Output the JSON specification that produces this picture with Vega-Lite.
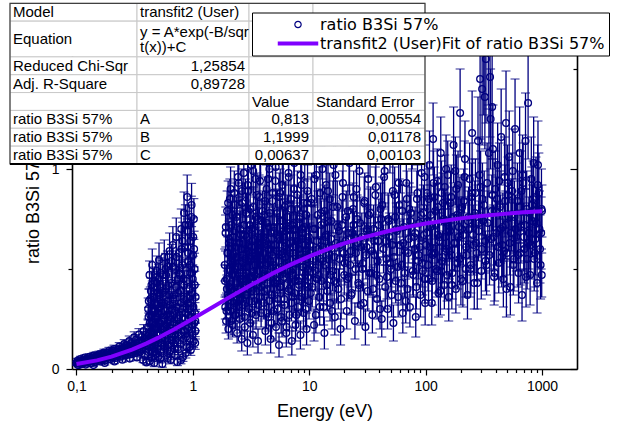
{
"$schema": "https://vega.github.io/schema/vega-lite/v6.json",
"width": 505,
"height": 330,
"autosize": "none",
"padding": {"left": 72, "top": 39, "right": 48, "bottom": 56},
"background": "white",
"config": {
  "font": "Liberation Sans",
  "view": {"stroke": null},
  "axis": {"labelFont": "Liberation Sans", "titleFont": "Liberation Sans", "labelColor": "#000", "titleColor": "#000", "tickColor": "#000", "domainColor": "#000", "grid": false, "titleFontWeight": "normal", "zindex": 0}
},
"datasets": {
"pts": [
{"x":0.100,"y":0.028,"e":0.010},{"x":0.102,"y":0.041,"e":0.012},{"x":0.104,"y":0.019,"e":0.009},{"x":0.106,"y":0.035,"e":0.011},{"x":0.108,"y":0.050,"e":0.013},{"x":0.110,"y":0.024,"e":0.010},{"x":0.113,"y":0.044,"e":0.012},{"x":0.115,"y":0.031,"e":0.011},{"x":0.118,"y":0.057,"e":0.014},{"x":0.120,"y":0.022,"e":0.010},{"x":0.123,"y":0.048,"e":0.013},{"x":0.126,"y":0.036,"e":0.011},{"x":0.129,"y":0.061,"e":0.015},{"x":0.132,"y":0.029,"e":0.011},{"x":0.135,"y":0.053,"e":0.014},{"x":0.138,"y":0.040,"e":0.012},{"x":0.141,"y":0.068,"e":0.015},{"x":0.145,"y":0.034,"e":0.012},{"x":0.148,"y":0.058,"e":0.014},{"x":0.152,"y":0.045,"e":0.013},{"x":0.156,"y":0.073,"e":0.016},{"x":0.160,"y":0.038,"e":0.012},{"x":0.164,"y":0.064,"e":0.015},{"x":0.168,"y":0.051,"e":0.014},{"x":0.172,"y":0.082,"e":0.017},{"x":0.176,"y":0.043,"e":0.013},{"x":0.180,"y":0.070,"e":0.016},{"x":0.185,"y":0.057,"e":0.014},{"x":0.190,"y":0.090,"e":0.018},{"x":0.195,"y":0.049,"e":0.014},{"x":0.200,"y":0.078,"e":0.016},{"x":0.205,"y":0.063,"e":0.015},{"x":0.210,"y":0.100,"e":0.019},{"x":0.215,"y":0.055,"e":0.015},{"x":0.221,"y":0.086,"e":0.017},{"x":0.227,"y":0.071,"e":0.016},{"x":0.233,"y":0.112,"e":0.020},{"x":0.239,"y":0.061,"e":0.015},{"x":0.245,"y":0.095,"e":0.018},{"x":0.251,"y":0.078,"e":0.017},{"x":0.257,"y":0.125,"e":0.022},{"x":0.263,"y":0.068,"e":0.016},{"x":0.270,"y":0.104,"e":0.019},{"x":0.277,"y":0.087,"e":0.018},{"x":0.284,"y":0.140,"e":0.025},{"x":0.291,"y":0.074,"e":0.017},{"x":0.298,"y":0.115,"e":0.020},{"x":0.305,"y":0.094,"e":0.019},{"x":0.313,"y":0.158,"e":0.028},{"x":0.320,"y":0.080,"e":0.018},{"x":0.328,"y":0.126,"e":0.022},{"x":0.336,"y":0.101,"e":0.020},{"x":0.344,"y":0.172,"e":0.030},{"x":0.352,"y":0.085,"e":0.019},{"x":0.360,"y":0.137,"e":0.024},{"x":0.369,"y":0.108,"e":0.021},{"x":0.378,"y":0.190,"e":0.032},{"x":0.386,"y":0.070,"e":0.018},{"x":0.395,"y":0.150,"e":0.026},{"x":0.404,"y":0.118,"e":0.022},
{"x":0.140,"y":0.020,"e":0.008},{"x":0.175,"y":0.030,"e":0.010},{"x":0.212,"y":0.038,"e":0.011},{"x":0.248,"y":0.046,"e":0.012},{"x":0.287,"y":0.052,"e":0.013},{"x":0.331,"y":0.058,"e":0.014},{"x":0.373,"y":0.045,"e":0.013},{"x":0.399,"y":0.033,"e":0.012},
{"x":0.101,"y":0.033,"e":0.010},{"x":0.105,"y":0.026,"e":0.010},{"x":0.109,"y":0.039,"e":0.011},{"x":0.112,"y":0.030,"e":0.010},{"x":0.117,"y":0.046,"e":0.012},{"x":0.121,"y":0.034,"e":0.011},{"x":0.125,"y":0.052,"e":0.013},{"x":0.130,"y":0.040,"e":0.012},{"x":0.134,"y":0.047,"e":0.012},{"x":0.139,"y":0.058,"e":0.014},{"x":0.143,"y":0.042,"e":0.012},{"x":0.150,"y":0.065,"e":0.015},{"x":0.154,"y":0.050,"e":0.013},{"x":0.158,"y":0.059,"e":0.014},{"x":0.162,"y":0.047,"e":0.013},{"x":0.166,"y":0.075,"e":0.016},{"x":0.170,"y":0.062,"e":0.015},{"x":0.178,"y":0.056,"e":0.014},{"x":0.183,"y":0.081,"e":0.017},{"x":0.188,"y":0.067,"e":0.015},{"x":0.193,"y":0.074,"e":0.016},{"x":0.198,"y":0.060,"e":0.015},{"x":0.203,"y":0.092,"e":0.018},{"x":0.208,"y":0.070,"e":0.016},{"x":0.218,"y":0.083,"e":0.017},{"x":0.224,"y":0.066,"e":0.016},{"x":0.230,"y":0.098,"e":0.019},{"x":0.236,"y":0.080,"e":0.017},{"x":0.242,"y":0.089,"e":0.018},{"x":0.254,"y":0.107,"e":0.020},{"x":0.260,"y":0.085,"e":0.018},{"x":0.267,"y":0.118,"e":0.021},{"x":0.274,"y":0.095,"e":0.019},{"x":0.281,"y":0.109,"e":0.020},{"x":0.295,"y":0.130,"e":0.023},{"x":0.302,"y":0.103,"e":0.020},{"x":0.309,"y":0.121,"e":0.022},{"x":0.316,"y":0.090,"e":0.019},{"x":0.324,"y":0.146,"e":0.026},{"x":0.340,"y":0.115,"e":0.022},{"x":0.348,"y":0.132,"e":0.024},{"x":0.356,"y":0.098,"e":0.020},{"x":0.364,"y":0.160,"e":0.028},{"x":0.382,"y":0.125,"e":0.023},{"x":0.391,"y":0.170,"e":0.030},{"x":0.408,"y":0.140,"e":0.026},
{"x":0.412,"y":0.210,"e":0.040},{"x":0.415,"y":0.085,"e":0.025},{"x":0.418,"y":0.340,"e":0.060},{"x":0.421,"y":0.150,"e":0.035},{"x":0.424,"y":0.470,"e":0.070},{"x":0.427,"y":0.040,"e":0.020},{"x":0.430,"y":0.270,"e":0.050},{"x":0.433,"y":0.120,"e":0.030},{"x":0.436,"y":0.390,"e":0.065},{"x":0.439,"y":0.190,"e":0.040},{"x":0.442,"y":0.060,"e":0.022},{"x":0.445,"y":0.300,"e":0.055},{"x":0.448,"y":0.520,"e":0.080},{"x":0.451,"y":0.230,"e":0.045},{"x":0.455,"y":0.105,"e":0.030},{"x":0.458,"y":0.360,"e":0.060},{"x":0.462,"y":0.160,"e":0.035},{"x":0.466,"y":0.030,"e":0.018},{"x":0.470,"y":0.440,"e":0.070},{"x":0.474,"y":0.250,"e":0.050},{"x":0.478,"y":0.135,"e":0.032},{"x":0.482,"y":0.320,"e":0.058},{"x":0.486,"y":0.075,"e":0.024},{"x":0.490,"y":0.490,"e":0.075},{"x":0.494,"y":0.205,"e":0.042},{"x":0.498,"y":0.380,"e":0.062},{"x":0.502,"y":0.110,"e":0.030},{"x":0.507,"y":0.280,"e":0.052},{"x":0.512,"y":0.545,"e":0.085},{"x":0.517,"y":0.175,"e":0.038},{"x":0.522,"y":0.050,"e":0.020},{"x":0.527,"y":0.410,"e":0.068},{"x":0.532,"y":0.240,"e":0.048},{"x":0.537,"y":0.130,"e":0.032},{"x":0.542,"y":0.330,"e":0.058},{"x":0.547,"y":0.025,"e":0.016},{"x":0.552,"y":0.470,"e":0.072},{"x":0.557,"y":0.195,"e":0.042},{"x":0.562,"y":0.090,"e":0.026},{"x":0.568,"y":0.560,"e":0.085},{"x":0.574,"y":0.290,"e":0.055},{"x":0.580,"y":0.150,"e":0.035},{"x":0.586,"y":0.400,"e":0.066},{"x":0.592,"y":0.215,"e":0.044},{"x":0.598,"y":0.070,"e":0.022},{"x":0.604,"y":0.510,"e":0.080},{"x":0.610,"y":0.340,"e":0.060},{"x":0.617,"y":0.120,"e":0.030},{"x":0.624,"y":0.260,"e":0.050},{"x":0.631,"y":0.590,"e":0.090},{"x":0.638,"y":0.180,"e":0.040},{"x":0.645,"y":0.045,"e":0.019},{"x":0.652,"y":0.430,"e":0.070},{"x":0.659,"y":0.300,"e":0.056},{"x":0.666,"y":0.145,"e":0.034},{"x":0.673,"y":0.620,"e":0.092},{"x":0.680,"y":0.235,"e":0.047},{"x":0.688,"y":0.370,"e":0.062},{"x":0.696,"y":0.100,"e":0.028},{"x":0.704,"y":0.500,"e":0.078},{"x":0.712,"y":0.200,"e":0.042},{"x":0.720,"y":0.660,"e":0.095},{"x":0.728,"y":0.310,"e":0.058},{"x":0.736,"y":0.035,"e":0.018},{"x":0.744,"y":0.450,"e":0.072},{"x":0.752,"y":0.165,"e":0.036},{"x":0.760,"y":0.580,"e":0.088},{"x":0.768,"y":0.270,"e":0.052},{"x":0.777,"y":0.390,"e":0.065},{"x":0.786,"y":0.125,"e":0.031},{"x":0.795,"y":0.700,"e":0.100},{"x":0.804,"y":0.225,"e":0.046},{"x":0.813,"y":0.520,"e":0.082},{"x":0.822,"y":0.060,"e":0.022},{"x":0.831,"y":0.350,"e":0.061},{"x":0.840,"y":0.780,"e":0.105},{"x":0.849,"y":0.190,"e":0.041},{"x":0.858,"y":0.610,"e":0.090},{"x":0.867,"y":0.280,"e":0.054},{"x":0.876,"y":0.440,"e":0.071},{"x":0.885,"y":0.110,"e":0.029},{"x":0.894,"y":0.860,"e":0.110},{"x":0.903,"y":0.330,"e":0.060},{"x":0.912,"y":0.540,"e":0.083},{"x":0.921,"y":0.210,"e":0.044},{"x":0.930,"y":0.720,"e":0.100},{"x":0.939,"y":0.400,"e":0.067},{"x":0.948,"y":0.150,"e":0.034},{"x":0.957,"y":0.640,"e":0.092},{"x":0.966,"y":0.260,"e":0.051},{"x":0.975,"y":0.820,"e":0.108},{"x":0.984,"y":0.480,"e":0.076},{"x":0.993,"y":0.170,"e":0.038},{"x":1.002,"y":0.570,"e":0.086},{"x":1.011,"y":0.310,"e":0.058},{"x":1.020,"y":0.750,"e":0.102},{"x":1.029,"y":0.230,"e":0.047},{"x":1.038,"y":0.420,"e":0.069},{"x":1.047,"y":0.130,"e":0.032},{"x":1.056,"y":0.360,"e":0.062},
{"x":0.416,"y":0.260,"e":0.048},{"x":0.429,"y":0.180,"e":0.038},{"x":0.441,"y":0.420,"e":0.066},{"x":0.453,"y":0.140,"e":0.032},{"x":0.468,"y":0.290,"e":0.054},{"x":0.480,"y":0.210,"e":0.043},{"x":0.496,"y":0.100,"e":0.028},{"x":0.509,"y":0.450,"e":0.072},{"x":0.524,"y":0.310,"e":0.057},{"x":0.539,"y":0.200,"e":0.042},{"x":0.555,"y":0.380,"e":0.063},{"x":0.571,"y":0.115,"e":0.030},{"x":0.589,"y":0.470,"e":0.074},{"x":0.607,"y":0.230,"e":0.046},{"x":0.627,"y":0.370,"e":0.062},{"x":0.648,"y":0.270,"e":0.051},{"x":0.670,"y":0.510,"e":0.080},{"x":0.692,"y":0.170,"e":0.037},{"x":0.716,"y":0.410,"e":0.068},{"x":0.740,"y":0.250,"e":0.049},{"x":0.764,"y":0.480,"e":0.076},{"x":0.790,"y":0.330,"e":0.059},{"x":0.817,"y":0.640,"e":0.094},{"x":0.845,"y":0.420,"e":0.069},{"x":0.872,"y":0.160,"e":0.036},{"x":0.899,"y":0.690,"e":0.099},{"x":0.926,"y":0.300,"e":0.056},{"x":0.953,"y":0.480,"e":0.075},{"x":0.980,"y":0.380,"e":0.064},{"x":1.007,"y":0.660,"e":0.096},{"x":1.034,"y":0.500,"e":0.079},{"x":0.610,"y":0.055,"e":0.020},{"x":0.700,"y":0.070,"e":0.023},{"x":0.790,"y":0.045,"e":0.019},{"x":0.870,"y":0.080,"e":0.025},{"x":0.960,"y":0.095,"e":0.027},{"x":1.050,"y":0.240,"e":0.048},
{"x":0.413,"y":0.300,"e":0.055},{"x":0.419,"y":0.110,"e":0.030},{"x":0.426,"y":0.230,"e":0.046},{"x":0.431,"y":0.350,"e":0.060},{"x":0.437,"y":0.160,"e":0.036},{"x":0.444,"y":0.270,"e":0.050},{"x":0.450,"y":0.080,"e":0.025},{"x":0.457,"y":0.410,"e":0.066},{"x":0.464,"y":0.200,"e":0.041},{"x":0.472,"y":0.330,"e":0.058},{"x":0.476,"y":0.120,"e":0.031},{"x":0.484,"y":0.260,"e":0.049},{"x":0.488,"y":0.430,"e":0.069},{"x":0.492,"y":0.170,"e":0.037},{"x":0.500,"y":0.300,"e":0.055},{"x":0.505,"y":0.060,"e":0.022},{"x":0.514,"y":0.370,"e":0.062},{"x":0.519,"y":0.230,"e":0.046},{"x":0.529,"y":0.480,"e":0.075},{"x":0.534,"y":0.150,"e":0.034},{"x":0.544,"y":0.280,"e":0.052},{"x":0.549,"y":0.390,"e":0.064},{"x":0.559,"y":0.110,"e":0.029},{"x":0.565,"y":0.330,"e":0.058},{"x":0.577,"y":0.210,"e":0.043},{"x":0.583,"y":0.500,"e":0.078},{"x":0.595,"y":0.270,"e":0.051},{"x":0.601,"y":0.140,"e":0.033},{"x":0.614,"y":0.420,"e":0.068},{"x":0.620,"y":0.190,"e":0.040},{"x":0.634,"y":0.320,"e":0.057},{"x":0.641,"y":0.090,"e":0.026},{"x":0.655,"y":0.540,"e":0.083},{"x":0.662,"y":0.220,"e":0.045},{"x":0.677,"y":0.350,"e":0.060},{"x":0.684,"y":0.130,"e":0.032},{"x":0.708,"y":0.290,"e":0.054},{"x":0.724,"y":0.560,"e":0.085},{"x":0.732,"y":0.180,"e":0.039},{"x":0.748,"y":0.380,"e":0.063},{"x":0.756,"y":0.100,"e":0.028},{"x":0.772,"y":0.470,"e":0.074},{"x":0.781,"y":0.230,"e":0.046},{"x":0.799,"y":0.600,"e":0.089},{"x":0.808,"y":0.300,"e":0.055},{"x":0.826,"y":0.150,"e":0.034},{"x":0.835,"y":0.450,"e":0.071},{"x":0.853,"y":0.250,"e":0.049},{"x":0.862,"y":0.720,"e":0.101},{"x":0.881,"y":0.360,"e":0.061},{"x":0.890,"y":0.200,"e":0.041},{"x":0.908,"y":0.580,"e":0.087},{"x":0.917,"y":0.270,"e":0.051},{"x":0.935,"y":0.110,"e":0.029},{"x":0.944,"y":0.520,"e":0.081},{"x":0.962,"y":0.330,"e":0.058},{"x":0.971,"y":0.760,"e":0.104},{"x":0.989,"y":0.220,"e":0.045},{"x":0.998,"y":0.450,"e":0.071},{"x":1.016,"y":0.140,"e":0.033},{"x":1.025,"y":0.600,"e":0.089},{"x":1.043,"y":0.280,"e":0.052},{"x":1.052,"y":0.190,"e":0.040},
{"x":1.88,"y":0.52,"e":0.08},{"x":1.90,"y":0.31,"e":0.06},{"x":1.91,"y":0.68,"e":0.09},{"x":1.93,"y":0.24,"e":0.06},{"x":1.95,"y":0.45,"e":0.07},{"x":1.97,"y":0.79,"e":0.10},{"x":1.99,"y":0.37,"e":0.07},{"x":2.00,"y":0.58,"e":0.08},{"x":2.02,"y":0.20,"e":0.05},{"x":2.04,"y":0.63,"e":0.09},{"x":2.06,"y":0.41,"e":0.07},{"x":2.08,"y":0.85,"e":0.10},{"x":2.10,"y":0.29,"e":0.06},{"x":2.12,"y":0.54,"e":0.08},{"x":2.14,"y":0.72,"e":0.09},{"x":2.16,"y":0.34,"e":0.07},{"x":2.18,"y":0.47,"e":0.07},{"x":2.20,"y":0.22,"e":0.06},{"x":2.22,"y":0.66,"e":0.09},{"x":2.24,"y":0.39,"e":0.07},{"x":2.27,"y":0.88,"e":0.11},{"x":2.29,"y":0.50,"e":0.08},{"x":2.31,"y":0.27,"e":0.06},{"x":2.33,"y":0.61,"e":0.09},{"x":2.36,"y":0.43,"e":0.07},{"x":2.38,"y":0.76,"e":0.10},{"x":2.40,"y":0.18,"e":0.05},{"x":2.43,"y":0.56,"e":0.08},{"x":2.45,"y":0.35,"e":0.07},{"x":2.48,"y":0.93,"e":0.11},{"x":2.50,"y":0.48,"e":0.08},{"x":2.53,"y":0.25,"e":0.07},{"x":2.55,"y":0.70,"e":0.09},{"x":2.58,"y":0.40,"e":0.08},{"x":2.60,"y":0.60,"e":0.09},{"x":2.63,"y":0.15,"e":0.06},{"x":2.66,"y":0.83,"e":0.10},{"x":2.68,"y":0.32,"e":0.07},{"x":2.71,"y":0.53,"e":0.08},{"x":2.74,"y":0.98,"e":0.12},{"x":2.76,"y":0.44,"e":0.08},{"x":2.79,"y":0.21,"e":0.06},{"x":2.82,"y":0.67,"e":0.09},{"x":2.85,"y":0.37,"e":0.07},{"x":2.88,"y":0.78,"e":0.10},{"x":2.91,"y":0.51,"e":0.08},{"x":2.94,"y":0.13,"e":0.06},{"x":2.97,"y":0.59,"e":0.09},{"x":3.00,"y":0.89,"e":0.11},{"x":3.03,"y":0.30,"e":0.07},{"x":3.06,"y":0.46,"e":0.08},{"x":3.09,"y":0.72,"e":0.10},{"x":3.12,"y":0.23,"e":0.07},{"x":3.15,"y":0.55,"e":0.08},{"x":3.18,"y":1.02,"e":0.12},{"x":3.22,"y":0.39,"e":0.08},{"x":3.25,"y":0.64,"e":0.09},{"x":3.28,"y":0.17,"e":0.06},{"x":3.32,"y":0.81,"e":0.10},{"x":3.35,"y":0.49,"e":0.08},{"x":3.38,"y":0.34,"e":0.07},{"x":3.42,"y":0.69,"e":0.09},{"x":3.45,"y":0.95,"e":0.12},{"x":3.49,"y":0.27,"e":0.07},{"x":3.52,"y":0.57,"e":0.09},{"x":3.56,"y":0.42,"e":0.08},{"x":3.60,"y":0.75,"e":0.10},{"x":3.63,"y":0.14,"e":0.06},{"x":3.67,"y":0.62,"e":0.09},{"x":3.71,"y":0.86,"e":0.11},{"x":3.75,"y":0.36,"e":0.08},{"x":3.78,"y":0.52,"e":0.09},{"x":3.82,"y":1.05,"e":0.13},{"x":3.86,"y":0.28,"e":0.07},{"x":3.90,"y":0.66,"e":0.09},{"x":3.94,"y":0.45,"e":0.08},{"x":3.98,"y":0.79,"e":0.10},
{"x":1.89,"y":0.44,"e":0.08},{"x":1.92,"y":0.71,"e":0.10},{"x":1.945,"y":0.29,"e":0.07},{"x":1.98,"y":0.58,"e":0.09},{"x":2.01,"y":0.83,"e":0.11},{"x":2.03,"y":0.36,"e":0.07},{"x":2.05,"y":0.65,"e":0.09},{"x":2.07,"y":0.50,"e":0.08},{"x":2.11,"y":0.90,"e":0.11},{"x":2.13,"y":0.24,"e":0.07},{"x":2.15,"y":0.61,"e":0.09},{"x":2.17,"y":0.40,"e":0.08},{"x":2.19,"y":0.77,"e":0.10},{"x":2.21,"y":0.53,"e":0.09},{"x":2.25,"y":0.33,"e":0.07},{"x":2.26,"y":0.69,"e":0.10},{"x":2.28,"y":0.47,"e":0.08},{"x":2.30,"y":0.82,"e":0.11},{"x":2.32,"y":0.27,"e":0.07},{"x":2.35,"y":0.56,"e":0.09},{"x":2.39,"y":0.74,"e":0.10},{"x":2.41,"y":0.38,"e":0.08},{"x":2.44,"y":0.96,"e":0.12},{"x":2.47,"y":0.51,"e":0.09},{"x":2.49,"y":0.63,"e":0.09},{"x":2.51,"y":0.31,"e":0.07},{"x":2.54,"y":0.79,"e":0.10},{"x":2.57,"y":0.45,"e":0.08},{"x":2.59,"y":0.67,"e":0.10},{"x":2.62,"y":0.35,"e":0.08},{"x":2.64,"y":0.89,"e":0.11},{"x":2.69,"y":0.57,"e":0.09},{"x":2.72,"y":0.42,"e":0.08},{"x":2.75,"y":0.72,"e":0.10},{"x":2.78,"y":0.26,"e":0.07},{"x":2.80,"y":0.60,"e":0.09},{"x":2.84,"y":0.84,"e":0.11},{"x":2.87,"y":0.48,"e":0.09},{"x":2.90,"y":0.66,"e":0.10},{"x":2.93,"y":0.37,"e":0.08},{"x":2.96,"y":0.92,"e":0.12},{"x":2.99,"y":0.54,"e":0.09},{"x":3.05,"y":0.62,"e":0.09},{"x":3.08,"y":0.34,"e":0.08},{"x":3.11,"y":0.80,"e":0.11},{"x":3.14,"y":0.46,"e":0.09},{"x":3.17,"y":0.70,"e":0.10},{"x":3.24,"y":0.28,"e":0.07},{"x":3.27,"y":0.58,"e":0.09},{"x":3.30,"y":0.99,"e":0.12},{"x":3.34,"y":0.43,"e":0.08},{"x":3.37,"y":0.65,"e":0.10},{"x":3.44,"y":0.52,"e":0.09},{"x":3.47,"y":0.76,"e":0.10},{"x":3.51,"y":0.39,"e":0.08},{"x":3.55,"y":0.87,"e":0.11},{"x":3.58,"y":0.59,"e":0.09},{"x":3.65,"y":0.32,"e":0.08},{"x":3.69,"y":0.71,"e":0.10},{"x":3.73,"y":0.49,"e":0.09},{"x":3.77,"y":0.94,"e":0.12},{"x":3.80,"y":0.55,"e":0.09},{"x":3.88,"y":0.41,"e":0.08},{"x":3.92,"y":0.74,"e":0.10},{"x":3.96,"y":0.63,"e":0.10},
{"x":4.02,"y":0.58,"e":0.09},{"x":4.07,"y":0.33,"e":0.08},{"x":4.11,"y":0.77,"e":0.11},{"x":4.16,"y":0.46,"e":0.09},{"x":4.20,"y":0.19,"e":0.07},{"x":4.25,"y":0.64,"e":0.10},{"x":4.30,"y":0.90,"e":0.12},{"x":4.35,"y":0.40,"e":0.08},{"x":4.40,"y":0.55,"e":0.09},{"x":4.45,"y":0.26,"e":0.07},{"x":4.50,"y":0.71,"e":0.10},{"x":4.55,"y":1.00,"e":0.13},{"x":4.60,"y":0.48,"e":0.09},{"x":4.66,"y":0.15,"e":0.07},{"x":4.71,"y":0.62,"e":0.10},{"x":4.77,"y":0.37,"e":0.08},{"x":4.82,"y":0.84,"e":0.12},{"x":4.88,"y":0.52,"e":0.09},{"x":4.94,"y":0.29,"e":0.08},{"x":5.00,"y":0.69,"e":0.10},{"x":5.06,"y":0.43,"e":0.09},{"x":5.12,"y":0.94,"e":0.13},{"x":5.18,"y":0.21,"e":0.07},{"x":5.24,"y":0.59,"e":0.10},{"x":5.30,"y":0.78,"e":0.11},{"x":5.37,"y":0.35,"e":0.08},{"x":5.43,"y":0.50,"e":0.09},{"x":5.50,"y":0.12,"e":0.06},{"x":5.56,"y":0.66,"e":0.10},{"x":5.63,"y":0.88,"e":0.12},{"x":5.70,"y":0.41,"e":0.09},{"x":5.77,"y":0.57,"e":0.10},{"x":5.84,"y":0.24,"e":0.08},{"x":5.91,"y":0.74,"e":0.11},{"x":5.98,"y":1.06,"e":0.14},{"x":6.05,"y":0.46,"e":0.09},{"x":6.13,"y":0.32,"e":0.08},{"x":6.20,"y":0.61,"e":0.10},{"x":6.28,"y":0.82,"e":0.12},{"x":6.35,"y":0.18,"e":0.07},{"x":6.43,"y":0.53,"e":0.10},{"x":6.51,"y":0.70,"e":0.11},{"x":6.59,"y":0.39,"e":0.09},{"x":6.67,"y":0.96,"e":0.13},{"x":6.75,"y":0.27,"e":0.08},{"x":6.83,"y":0.63,"e":0.10},{"x":6.92,"y":0.49,"e":0.09},{"x":7.00,"y":0.80,"e":0.12},{"x":7.09,"y":0.14,"e":0.07},{"x":7.17,"y":0.58,"e":0.10},{"x":7.26,"y":0.36,"e":0.09},{"x":7.35,"y":0.73,"e":0.11},{"x":7.44,"y":1.03,"e":0.14},{"x":7.53,"y":0.44,"e":0.09},{"x":7.62,"y":0.22,"e":0.08},{"x":7.72,"y":0.67,"e":0.11},{"x":7.81,"y":0.54,"e":0.10},{"x":7.91,"y":0.87,"e":0.12},{"x":8.00,"y":0.31,"e":0.08},{"x":8.10,"y":0.60,"e":0.10},{"x":8.20,"y":0.42,"e":0.09},{"x":8.30,"y":0.76,"e":0.11},{"x":8.40,"y":0.17,"e":0.07},{"x":8.51,"y":0.65,"e":0.10},{"x":8.61,"y":0.92,"e":0.13},{"x":8.72,"y":0.38,"e":0.09},{"x":8.82,"y":0.51,"e":0.10},{"x":8.93,"y":0.28,"e":0.08},{"x":9.04,"y":0.71,"e":0.11},{"x":9.15,"y":1.08,"e":0.14},{"x":9.26,"y":0.47,"e":0.10},{"x":9.38,"y":0.59,"e":0.10},{"x":9.49,"y":0.20,"e":0.08},{"x":9.61,"y":0.83,"e":0.12},{"x":9.72,"y":0.41,"e":0.09},{"x":9.84,"y":0.64,"e":0.11},{"x":9.96,"y":0.34,"e":0.09},
{"x":1.96,"y":0.40,"e":0.07},{"x":2.09,"y":0.49,"e":0.08},{"x":2.23,"y":0.57,"e":0.08},{"x":2.37,"y":0.31,"e":0.07},{"x":2.52,"y":0.63,"e":0.09},{"x":2.67,"y":0.45,"e":0.08},{"x":2.83,"y":0.55,"e":0.09},{"x":3.01,"y":0.40,"e":0.08},{"x":3.20,"y":0.61,"e":0.09},{"x":3.40,"y":0.47,"e":0.08},{"x":3.61,"y":0.55,"e":0.09},{"x":3.84,"y":0.60,"e":0.09},{"x":4.09,"y":0.50,"e":0.09},{"x":4.35,"y":0.62,"e":0.10},{"x":4.63,"y":0.54,"e":0.10},{"x":4.93,"y":0.44,"e":0.09},{"x":5.25,"y":0.67,"e":0.10},{"x":5.59,"y":0.47,"e":0.09},{"x":5.95,"y":0.58,"e":0.10},{"x":6.33,"y":0.69,"e":0.11},{"x":6.74,"y":0.52,"e":0.10},{"x":7.18,"y":0.48,"e":0.10},{"x":7.65,"y":0.61,"e":0.10},{"x":8.15,"y":0.55,"e":0.10},{"x":8.68,"y":0.70,"e":0.11},{"x":9.24,"y":0.57,"e":0.10},{"x":9.80,"y":0.50,"e":0.10},
{"x":4.05,"y":0.66,"e":0.10},{"x":4.13,"y":0.39,"e":0.09},{"x":4.18,"y":0.84,"e":0.12},{"x":4.23,"y":0.52,"e":0.09},{"x":4.28,"y":0.28,"e":0.08},{"x":4.33,"y":0.73,"e":0.11},{"x":4.38,"y":0.46,"e":0.09},{"x":4.43,"y":0.95,"e":0.13},{"x":4.48,"y":0.60,"e":0.10},{"x":4.53,"y":0.34,"e":0.08},{"x":4.58,"y":0.78,"e":0.11},{"x":4.64,"y":0.50,"e":0.09},{"x":4.69,"y":0.68,"e":0.10},{"x":4.74,"y":0.23,"e":0.08},{"x":4.80,"y":0.57,"e":0.10},{"x":4.85,"y":0.88,"e":0.12},{"x":4.91,"y":0.43,"e":0.09},{"x":4.97,"y":0.71,"e":0.11},{"x":5.03,"y":0.37,"e":0.09},{"x":5.09,"y":0.62,"e":0.10},{"x":5.15,"y":1.01,"e":0.14},{"x":5.21,"y":0.48,"e":0.09},{"x":5.27,"y":0.79,"e":0.11},{"x":5.34,"y":0.30,"e":0.08},{"x":5.40,"y":0.65,"e":0.10},{"x":5.46,"y":0.54,"e":0.10},{"x":5.53,"y":0.86,"e":0.12},{"x":5.60,"y":0.41,"e":0.09},{"x":5.66,"y":0.74,"e":0.11},{"x":5.73,"y":0.26,"e":0.08},{"x":5.80,"y":0.59,"e":0.10},{"x":5.87,"y":0.92,"e":0.13},{"x":5.94,"y":0.45,"e":0.09},{"x":6.01,"y":0.69,"e":0.11},{"x":6.09,"y":0.35,"e":0.09},{"x":6.16,"y":0.81,"e":0.12},{"x":6.24,"y":0.56,"e":0.10},{"x":6.31,"y":0.63,"e":0.10},{"x":6.39,"y":0.21,"e":0.08},{"x":6.47,"y":0.76,"e":0.11},{"x":6.55,"y":0.49,"e":0.10},{"x":6.63,"y":0.98,"e":0.14},{"x":6.71,"y":0.40,"e":0.09},{"x":6.79,"y":0.67,"e":0.11},{"x":6.87,"y":0.58,"e":0.10},{"x":6.96,"y":0.85,"e":0.12},{"x":7.04,"y":0.33,"e":0.09},{"x":7.13,"y":0.72,"e":0.11},{"x":7.22,"y":0.47,"e":0.10},{"x":7.30,"y":0.61,"e":0.10},{"x":7.39,"y":0.90,"e":0.13},{"x":7.48,"y":0.38,"e":0.09},{"x":7.58,"y":0.70,"e":0.11},{"x":7.67,"y":0.53,"e":0.10},{"x":7.76,"y":0.27,"e":0.08},{"x":7.86,"y":0.80,"e":0.12},{"x":7.95,"y":0.64,"e":0.10},{"x":8.05,"y":0.44,"e":0.09},{"x":8.25,"y":0.75,"e":0.11},{"x":8.35,"y":0.57,"e":0.10},{"x":8.45,"y":0.97,"e":0.14},{"x":8.56,"y":0.36,"e":0.09},{"x":8.77,"y":0.68,"e":0.11},{"x":8.88,"y":0.51,"e":0.10},{"x":8.99,"y":0.83,"e":0.12},{"x":9.10,"y":0.42,"e":0.09},{"x":9.21,"y":0.62,"e":0.10},{"x":9.32,"y":0.30,"e":0.09},{"x":9.43,"y":0.77,"e":0.12},{"x":9.55,"y":0.55,"e":0.10},{"x":9.67,"y":0.89,"e":0.13},{"x":9.78,"y":0.46,"e":0.10},{"x":9.90,"y":0.66,"e":0.11},
{"x":10.1,"y":0.62,"e":0.11},{"x":10.3,"y":0.38,"e":0.09},{"x":10.5,"y":0.85,"e":0.13},{"x":10.7,"y":0.51,"e":0.10},{"x":11.0,"y":0.22,"e":0.08},{"x":11.2,"y":0.70,"e":0.12},{"x":11.5,"y":0.97,"e":0.14},{"x":11.7,"y":0.45,"e":0.10},{"x":12.0,"y":0.60,"e":0.11},{"x":12.3,"y":0.31,"e":0.09},{"x":12.6,"y":0.78,"e":0.12},{"x":12.9,"y":1.10,"e":0.15},{"x":13.2,"y":0.54,"e":0.11},{"x":13.5,"y":0.18,"e":0.08},{"x":13.8,"y":0.66,"e":0.12},{"x":14.1,"y":0.42,"e":0.10},{"x":14.5,"y":0.89,"e":0.13},{"x":14.8,"y":0.57,"e":0.11},{"x":15.1,"y":0.33,"e":0.09},{"x":15.5,"y":0.74,"e":0.12},{"x":15.9,"y":0.49,"e":0.10},{"x":16.2,"y":1.02,"e":0.15},{"x":16.6,"y":0.26,"e":0.09},{"x":17.0,"y":0.63,"e":0.11},{"x":17.4,"y":0.81,"e":0.13},{"x":17.8,"y":0.40,"e":0.10},{"x":18.2,"y":0.55,"e":0.11},{"x":18.6,"y":0.20,"e":0.08},{"x":19.1,"y":0.72,"e":0.12},{"x":19.5,"y":0.93,"e":0.14},{"x":20.0,"y":0.47,"e":0.10},{"x":20.5,"y":0.64,"e":0.12},{"x":21.0,"y":0.29,"e":0.09},{"x":21.5,"y":0.79,"e":0.13},{"x":22.0,"y":1.08,"e":0.16},{"x":22.5,"y":0.52,"e":0.11},{"x":23.0,"y":0.37,"e":0.10},{"x":23.5,"y":0.68,"e":0.12},{"x":24.1,"y":0.86,"e":0.13},{"x":24.7,"y":0.24,"e":0.09},{"x":25.2,"y":0.58,"e":0.11},{"x":25.8,"y":0.75,"e":0.12},{"x":26.4,"y":0.43,"e":0.10},{"x":27.0,"y":0.99,"e":0.15},{"x":27.7,"y":0.32,"e":0.10},{"x":28.3,"y":0.66,"e":0.12},{"x":29.0,"y":0.53,"e":0.11},{"x":29.7,"y":0.83,"e":0.13},{"x":30.4,"y":0.21,"e":0.09},{"x":31.1,"y":0.61,"e":0.12},{"x":31.8,"y":0.39,"e":0.10},{"x":32.5,"y":0.77,"e":0.13},{"x":33.3,"y":1.12,"e":0.16},{"x":34.1,"y":0.48,"e":0.11},{"x":34.9,"y":0.27,"e":0.09},{"x":35.7,"y":0.70,"e":0.12},{"x":36.5,"y":0.57,"e":0.11},{"x":37.4,"y":0.91,"e":0.14},{"x":38.3,"y":0.35,"e":0.10},{"x":39.2,"y":0.64,"e":0.12},{"x":40.1,"y":0.45,"e":0.11},{"x":41.0,"y":0.80,"e":0.13},{"x":42.0,"y":0.25,"e":0.09},{"x":43.0,"y":0.68,"e":0.12},{"x":44.0,"y":0.96,"e":0.15},{"x":45.0,"y":0.41,"e":0.11},{"x":46.1,"y":0.55,"e":0.12},{"x":47.1,"y":0.30,"e":0.10},{"x":48.2,"y":0.74,"e":0.13},{"x":49.4,"y":1.15,"e":0.17},{"x":50.5,"y":0.50,"e":0.11},{"x":51.7,"y":0.62,"e":0.12},{"x":52.9,"y":0.23,"e":0.09},{"x":54.2,"y":0.87,"e":0.14},{"x":55.4,"y":0.44,"e":0.11},{"x":56.7,"y":0.69,"e":0.12},{"x":58.1,"y":0.36,"e":0.10},{"x":59.4,"y":0.82,"e":0.13},{"x":60.8,"y":1.04,"e":0.16},{"x":62.3,"y":0.52,"e":0.11},{"x":63.7,"y":0.28,"e":0.10},{"x":65.2,"y":0.71,"e":0.13},{"x":66.8,"y":0.59,"e":0.12},{"x":68.3,"y":0.93,"e":0.15},{"x":69.9,"y":0.40,"e":0.11},{"x":71.6,"y":0.65,"e":0.12},{"x":73.3,"y":0.31,"e":0.10},{"x":75.0,"y":0.78,"e":0.13},{"x":76.7,"y":1.18,"e":0.18},{"x":78.5,"y":0.47,"e":0.11},{"x":80.4,"y":0.60,"e":0.12},{"x":82.3,"y":0.26,"e":0.10},{"x":84.2,"y":0.85,"e":0.14},{"x":86.2,"y":0.54,"e":0.12},{"x":88.2,"y":0.73,"e":0.13},{"x":90.3,"y":0.37,"e":0.11},{"x":92.4,"y":0.98,"e":0.16},{"x":94.6,"y":0.49,"e":0.12},{"x":96.8,"y":0.67,"e":0.13},{"x":99.1,"y":0.33,"e":0.11},
{"x":10.9,"y":0.55,"e":0.11},{"x":12.1,"y":0.47,"e":0.10},{"x":13.4,"y":0.73,"e":0.12},{"x":14.9,"y":0.61,"e":0.11},{"x":16.4,"y":0.44,"e":0.10},{"x":18.0,"y":0.69,"e":0.12},{"x":19.8,"y":0.58,"e":0.11},{"x":21.8,"y":0.46,"e":0.11},{"x":24.0,"y":0.72,"e":0.12},{"x":26.1,"y":0.63,"e":0.12},{"x":28.6,"y":0.50,"e":0.11},{"x":31.5,"y":0.70,"e":0.12},{"x":34.5,"y":0.59,"e":0.12},{"x":37.9,"y":0.47,"e":0.11},{"x":41.5,"y":0.75,"e":0.13},{"x":45.5,"y":0.64,"e":0.12},{"x":49.9,"y":0.53,"e":0.12},{"x":54.8,"y":0.76,"e":0.13},{"x":60.1,"y":0.62,"e":0.12},{"x":65.9,"y":0.48,"e":0.12},{"x":72.4,"y":0.80,"e":0.13},{"x":79.4,"y":0.66,"e":0.13},{"x":87.2,"y":0.57,"e":0.12},{"x":95.7,"y":0.78,"e":0.14},
{"x":10.2,"y":0.58,"e":0.11},{"x":10.4,"y":0.83,"e":0.13},{"x":10.6,"y":0.41,"e":0.10},{"x":10.8,"y":0.70,"e":0.12},{"x":11.1,"y":0.95,"e":0.14},{"x":11.3,"y":0.49,"e":0.10},{"x":11.4,"y":0.27,"e":0.09},{"x":11.6,"y":0.64,"e":0.12},{"x":11.8,"y":0.77,"e":0.12},{"x":12.2,"y":0.36,"e":0.10},{"x":12.4,"y":0.88,"e":0.13},{"x":12.5,"y":0.55,"e":0.11},{"x":12.7,"y":0.72,"e":0.12},{"x":12.8,"y":0.44,"e":0.10},{"x":13.0,"y":1.00,"e":0.15},{"x":13.1,"y":0.61,"e":0.11},{"x":13.3,"y":0.31,"e":0.09},{"x":13.6,"y":0.79,"e":0.13},{"x":13.7,"y":0.52,"e":0.11},{"x":13.9,"y":0.67,"e":0.12},{"x":14.0,"y":0.92,"e":0.14},{"x":14.3,"y":0.39,"e":0.10},{"x":14.4,"y":0.74,"e":0.12},{"x":14.6,"y":0.58,"e":0.11},{"x":15.0,"y":0.85,"e":0.13},{"x":15.3,"y":0.47,"e":0.10},{"x":15.4,"y":0.65,"e":0.12},{"x":15.7,"y":0.29,"e":0.09},{"x":16.0,"y":0.81,"e":0.13},{"x":16.5,"y":0.56,"e":0.11},{"x":16.8,"y":0.97,"e":0.15},{"x":17.2,"y":0.43,"e":0.10},{"x":17.6,"y":0.71,"e":0.12},{"x":18.4,"y":0.62,"e":0.12},{"x":18.8,"y":0.35,"e":0.10},{"x":19.3,"y":0.86,"e":0.13},{"x":20.2,"y":0.53,"e":0.11},{"x":20.8,"y":0.76,"e":0.13},{"x":21.2,"y":0.45,"e":0.11},{"x":21.6,"y":0.68,"e":0.12},{"x":22.2,"y":1.03,"e":0.16},{"x":22.8,"y":0.59,"e":0.12},{"x":23.2,"y":0.38,"e":0.10},{"x":23.8,"y":0.80,"e":0.13},{"x":24.4,"y":0.66,"e":0.12},{"x":25.0,"y":0.50,"e":0.11},{"x":25.5,"y":0.90,"e":0.14},{"x":26.7,"y":0.42,"e":0.11},{"x":27.3,"y":0.73,"e":0.13},{"x":28.0,"y":0.61,"e":0.12},{"x":29.3,"y":0.33,"e":0.10},{"x":30.0,"y":0.84,"e":0.14},{"x":30.7,"y":0.57,"e":0.12},{"x":31.3,"y":0.69,"e":0.12},{"x":32.1,"y":0.95,"e":0.15},{"x":32.9,"y":0.48,"e":0.11},{"x":33.7,"y":0.78,"e":0.13},{"x":35.3,"y":0.40,"e":0.11},{"x":36.1,"y":0.64,"e":0.12},{"x":37.0,"y":0.87,"e":0.14},{"x":38.7,"y":0.54,"e":0.12},{"x":39.6,"y":0.72,"e":0.13},{"x":40.6,"y":0.30,"e":0.10},{"x":42.5,"y":0.82,"e":0.14},{"x":43.5,"y":0.60,"e":0.12},{"x":44.5,"y":0.99,"e":0.16},{"x":46.6,"y":0.46,"e":0.11},{"x":47.6,"y":0.75,"e":0.13},{"x":48.8,"y":0.66,"e":0.12},{"x":51.1,"y":0.37,"e":0.11},{"x":52.3,"y":0.89,"e":0.14},{"x":53.5,"y":0.56,"e":0.12},{"x":56.0,"y":0.70,"e":0.13},{"x":57.4,"y":0.51,"e":0.12},{"x":58.7,"y":0.93,"e":0.15},{"x":61.5,"y":0.43,"e":0.11},{"x":63.0,"y":0.79,"e":0.13},{"x":64.4,"y":0.63,"e":0.12},{"x":67.5,"y":0.34,"e":0.11},{"x":69.1,"y":0.85,"e":0.14},{"x":70.7,"y":0.58,"e":0.12},{"x":74.1,"y":0.74,"e":0.13},{"x":75.8,"y":1.05,"e":0.17},{"x":77.6,"y":0.49,"e":0.12},{"x":81.3,"y":0.68,"e":0.13},{"x":83.2,"y":0.41,"e":0.11},{"x":85.2,"y":0.88,"e":0.14},{"x":89.2,"y":0.61,"e":0.12},{"x":91.3,"y":0.77,"e":0.13},{"x":93.5,"y":0.53,"e":0.12},{"x":97.9,"y":0.96,"e":0.16},{"x":98.5,"y":0.45,"e":0.12},
{"x":101,"y":0.62,"e":0.13},{"x":103,"y":0.88,"e":0.15},{"x":106,"y":0.45,"e":0.12},{"x":108,"y":1.02,"e":0.17},{"x":110,"y":0.71,"e":0.14},{"x":113,"y":0.33,"e":0.11},{"x":115,"y":0.57,"e":0.13},{"x":116,"y":1.15,"e":0.18},{"x":121,"y":0.79,"e":0.14},{"x":123,"y":0.50,"e":0.12},{"x":126,"y":0.94,"e":0.16},{"x":129,"y":0.38,"e":0.12},{"x":132,"y":0.66,"e":0.14},{"x":135,"y":1.08,"e":0.18},{"x":138,"y":0.54,"e":0.13},{"x":141,"y":0.83,"e":0.15},{"x":145,"y":0.42,"e":0.12},{"x":148,"y":0.74,"e":0.14},{"x":151,"y":0.60,"e":0.13},{"x":155,"y":0.97,"e":0.17},{"x":158,"y":0.36,"e":0.12},{"x":162,"y":0.69,"e":0.14},{"x":166,"y":0.86,"e":0.16},{"x":170,"y":0.48,"e":0.13},{"x":174,"y":1.12,"e":0.19},{"x":178,"y":0.63,"e":0.14},{"x":182,"y":0.40,"e":0.12},{"x":186,"y":0.77,"e":0.15},{"x":190,"y":0.92,"e":0.17},{"x":195,"y":0.55,"e":0.13},{"x":198,"y":1.28,"e":0.22},{"x":204,"y":0.70,"e":0.15},{"x":209,"y":0.44,"e":0.13},{"x":213,"y":0.84,"e":0.16},{"x":218,"y":1.05,"e":0.19},{"x":223,"y":0.61,"e":0.14},{"x":229,"y":0.37,"e":0.12},{"x":234,"y":0.76,"e":0.15},{"x":239,"y":0.95,"e":0.18},{"x":245,"y":0.52,"e":0.14},{"x":251,"y":1.18,"e":0.21},{"x":256,"y":0.67,"e":0.15},{"x":262,"y":0.43,"e":0.13},{"x":268,"y":0.88,"e":0.17},{"x":275,"y":0.58,"e":0.14},{"x":282,"y":1.14,"e":0.22},{"x":288,"y":0.73,"e":0.16},{"x":294,"y":1.45,"e":0.30},{"x":301,"y":0.49,"e":0.14},{"x":306,"y":1.40,"e":0.28},{"x":308,"y":0.85,"e":0.18},{"x":316,"y":1.62,"e":0.35},{"x":323,"y":1.36,"e":0.26},{"x":324,"y":0.64,"e":0.16},{"x":330,"y":1.55,"e":0.32},{"x":338,"y":0.93,"e":0.20},{"x":346,"y":1.72,"e":0.40},{"x":354,"y":0.57,"e":0.15},{"x":358,"y":1.46,"e":0.30},{"x":362,"y":1.25,"e":0.25},{"x":371,"y":0.79,"e":0.18},{"x":373,"y":1.31,"e":0.26},{"x":379,"y":1.10,"e":0.22},{"x":388,"y":0.46,"e":0.14},{"x":397,"y":0.90,"e":0.19},{"x":406,"y":0.68,"e":0.16},{"x":416,"y":1.02,"e":0.21},{"x":425,"y":0.53,"e":0.15},{"x":435,"y":0.81,"e":0.18},{"x":446,"y":1.16,"e":0.24},{"x":456,"y":0.62,"e":0.16},{"x":466,"y":0.45,"e":0.14},{"x":477,"y":0.96,"e":0.20},{"x":488,"y":0.72,"e":0.17},{"x":491,"y":1.23,"e":0.26},{"x":500,"y":0.58,"e":0.16},{"x":511,"y":0.87,"e":0.19},{"x":523,"y":1.06,"e":0.23},{"x":535,"y":0.41,"e":0.14},{"x":548,"y":0.77,"e":0.18},{"x":561,"y":0.99,"e":0.21},{"x":574,"y":0.55,"e":0.16},{"x":587,"y":1.20,"e":0.25},{"x":601,"y":0.66,"e":0.17},{"x":615,"y":0.84,"e":0.19},{"x":629,"y":0.48,"e":0.15},{"x":643,"y":1.08,"e":0.23},{"x":658,"y":0.71,"e":0.18},{"x":674,"y":0.37,"e":0.13},{"x":689,"y":0.93,"e":0.20},{"x":705,"y":0.60,"e":0.17},{"x":722,"y":1.14,"e":0.24},{"x":739,"y":0.80,"e":0.19},{"x":745,"y":0.55,"e":0.15},{"x":760,"y":1.33,"e":0.28},{"x":773,"y":0.68,"e":0.18},{"x":791,"y":0.47,"e":0.15},{"x":810,"y":0.95,"e":0.21},{"x":829,"y":0.74,"e":0.18},{"x":848,"y":1.03,"e":0.23},{"x":868,"y":0.58,"e":0.17},{"x":888,"y":0.86,"e":0.20},{"x":908,"y":0.43,"e":0.15},{"x":924,"y":1.02,"e":0.22},{"x":951,"y":0.70,"e":0.19},{"x":973,"y":0.52,"e":0.17},{"x":995,"y":0.47,"e":0.11},{"x":990,"y":0.80,"e":0.20},{"x":1000,"y":0.79,"e":0.13},
{"x":104,"y":0.74,"e":0.14},{"x":112,"y":0.58,"e":0.13},{"x":119,"y":0.86,"e":0.15},{"x":127,"y":0.67,"e":0.14},{"x":136,"y":0.49,"e":0.13},{"x":146,"y":0.91,"e":0.16},{"x":156,"y":0.72,"e":0.15},{"x":167,"y":0.57,"e":0.14},{"x":180,"y":0.99,"e":0.17},{"x":192,"y":0.66,"e":0.15},{"x":206,"y":0.81,"e":0.16},{"x":221,"y":0.50,"e":0.14},{"x":236,"y":0.70,"e":0.15},{"x":253,"y":0.88,"e":0.17},{"x":271,"y":0.63,"e":0.15},{"x":291,"y":0.97,"e":0.19},{"x":312,"y":0.74,"e":0.17},{"x":334,"y":0.52,"e":0.15},{"x":350,"y":1.08,"e":0.22},{"x":384,"y":0.66,"e":0.16},{"x":411,"y":0.85,"e":0.18},{"x":441,"y":0.70,"e":0.17},{"x":472,"y":0.59,"e":0.16},{"x":506,"y":0.93,"e":0.19},{"x":541,"y":0.68,"e":0.17},{"x":580,"y":0.76,"e":0.18},{"x":622,"y":0.57,"e":0.16},{"x":666,"y":0.89,"e":0.20},{"x":713,"y":0.72,"e":0.18},{"x":765,"y":0.63,"e":0.17},{"x":819,"y":0.82,"e":0.19},{"x":878,"y":0.65,"e":0.18},{"x":940,"y":0.88,"e":0.20},
{"x":102,"y":0.68,"e":0.14},{"x":105,"y":0.52,"e":0.13},{"x":107,"y":0.85,"e":0.15},{"x":109,"y":0.61,"e":0.14},{"x":111,"y":0.77,"e":0.15},{"x":114,"y":0.44,"e":0.12},{"x":117,"y":0.93,"e":0.16},{"x":120,"y":0.58,"e":0.13},{"x":122,"y":0.72,"e":0.15},{"x":125,"y":0.49,"e":0.13},{"x":128,"y":0.81,"e":0.15},{"x":131,"y":0.64,"e":0.14},{"x":134,"y":0.39,"e":0.12},{"x":137,"y":0.88,"e":0.16},{"x":140,"y":0.56,"e":0.13},{"x":143,"y":0.75,"e":0.15},{"x":147,"y":0.66,"e":0.14},{"x":150,"y":1.00,"e":0.17},{"x":153,"y":0.47,"e":0.13},{"x":157,"y":0.70,"e":0.15},{"x":160,"y":0.59,"e":0.14},{"x":164,"y":0.83,"e":0.16},{"x":168,"y":0.42,"e":0.12},{"x":172,"y":0.76,"e":0.15},{"x":176,"y":0.63,"e":0.14},{"x":184,"y":0.90,"e":0.17},{"x":188,"y":0.53,"e":0.13},{"x":193,"y":0.71,"e":0.15},{"x":197,"y":0.80,"e":0.16},{"x":201,"y":0.45,"e":0.13},{"x":211,"y":0.67,"e":0.15},{"x":216,"y":0.96,"e":0.18},{"x":226,"y":0.57,"e":0.14},{"x":231,"y":0.74,"e":0.15},{"x":242,"y":0.50,"e":0.14},{"x":248,"y":0.86,"e":0.17},{"x":259,"y":0.62,"e":0.15},{"x":265,"y":0.78,"e":0.16},{"x":278,"y":0.43,"e":0.13},{"x":285,"y":0.69,"e":0.15},{"x":297,"y":0.91,"e":0.18},{"x":304,"y":0.60,"e":0.15},{"x":319,"y":0.82,"e":0.17},{"x":327,"y":0.54,"e":0.15},{"x":342,"y":0.73,"e":0.16},{"x":366,"y":0.65,"e":0.16},{"x":376,"y":0.87,"e":0.18},{"x":392,"y":0.48,"e":0.14},{"x":402,"y":0.79,"e":0.17},{"x":420,"y":0.61,"e":0.16},{"x":430,"y":0.94,"e":0.19},{"x":451,"y":0.56,"e":0.15},{"x":461,"y":0.71,"e":0.17},{"x":482,"y":0.84,"e":0.18},{"x":495,"y":0.40,"e":0.14},{"x":517,"y":0.76,"e":0.17},{"x":529,"y":0.63,"e":0.16},{"x":554,"y":0.89,"e":0.19},{"x":567,"y":0.52,"e":0.15},{"x":594,"y":0.70,"e":0.17},{"x":636,"y":0.81,"e":0.18},{"x":650,"y":0.58,"e":0.16},{"x":681,"y":0.97,"e":0.20},{"x":697,"y":0.66,"e":0.17},{"x":730,"y":0.46,"e":0.15},{"x":782,"y":0.78,"e":0.18},{"x":800,"y":0.62,"e":0.17},{"x":838,"y":0.85,"e":0.19},{"x":858,"y":0.55,"e":0.16},{"x":898,"y":0.73,"e":0.18},{"x":918,"y":0.92,"e":0.20},{"x":962,"y":0.60,"e":0.17},{"x":984,"y":0.68,"e":0.18}
],
"fit": [
{"x":0.1,"f":0.0247},{"x":0.15,"f":0.0431},{"x":0.2,"f":0.0619},{"x":0.3,"f":0.0973},{"x":0.4,"f":0.1283},{"x":0.5,"f":0.1554},{"x":0.7,"f":0.2001},{"x":1,"f":0.2513},{"x":1.5,"f":0.3116},{"x":2,"f":0.3544},{"x":3,"f":0.4130},{"x":5,"f":0.4818},{"x":7,"f":0.5229},{"x":10,"f":0.5627},{"x":15,"f":0.6028},{"x":20,"f":0.6280},{"x":30,"f":0.6594},{"x":50,"f":0.6925},{"x":70,"f":0.7107},{"x":100,"f":0.7274},{"x":200,"f":0.7532},{"x":300,"f":0.7650},{"x":500,"f":0.7769},{"x":700,"f":0.7833},{"x":1000,"f":0.7891}
],
"table": [
{"r0":0,"r1":1,"c0":0,"c1":1,"t":"Model","num":false},{"r0":0,"r1":1,"c0":1,"c1":2,"t":"transfit2 (User)","num":false},{"r0":0,"r1":1,"c0":2,"c1":3,"t":"","num":false},{"r0":0,"r1":1,"c0":3,"c1":4,"t":"","num":false},
{"r0":1,"r1":3,"c0":0,"c1":1,"t":"Equation","num":false},{"r0":1,"r1":3,"c0":1,"c1":2,"t":"y = A*exp(-B/sqr\nt(x))+C","num":false},{"r0":1,"r1":3,"c0":2,"c1":3,"t":"","num":false},{"r0":1,"r1":3,"c0":3,"c1":4,"t":"","num":false},
{"r0":3,"r1":4,"c0":0,"c1":1,"t":"Reduced Chi-Sqr","num":false},{"r0":3,"r1":4,"c0":1,"c1":2,"t":"1,25854","num":true},{"r0":3,"r1":4,"c0":2,"c1":3,"t":"","num":false},{"r0":3,"r1":4,"c0":3,"c1":4,"t":"","num":false},
{"r0":4,"r1":5,"c0":0,"c1":1,"t":"Adj. R-Square","num":false},{"r0":4,"r1":5,"c0":1,"c1":2,"t":"0,89728","num":true},{"r0":4,"r1":5,"c0":2,"c1":3,"t":"","num":false},{"r0":4,"r1":5,"c0":3,"c1":4,"t":"","num":false},
{"r0":5,"r1":6,"c0":0,"c1":1,"t":"","num":false},{"r0":5,"r1":6,"c0":1,"c1":2,"t":"","num":false},{"r0":5,"r1":6,"c0":2,"c1":3,"t":"Value","num":false},{"r0":5,"r1":6,"c0":3,"c1":4,"t":"Standard Error","num":false},
{"r0":6,"r1":7,"c0":0,"c1":1,"t":"ratio B3Si 57%","num":false},{"r0":6,"r1":7,"c0":1,"c1":2,"t":"A","num":false},{"r0":6,"r1":7,"c0":2,"c1":3,"t":"0,813","num":true},{"r0":6,"r1":7,"c0":3,"c1":4,"t":"0,00554","num":true},
{"r0":7,"r1":8,"c0":0,"c1":1,"t":"ratio B3Si 57%","num":false},{"r0":7,"r1":8,"c0":1,"c1":2,"t":"B","num":false},{"r0":7,"r1":8,"c0":2,"c1":3,"t":"1,1999","num":true},{"r0":7,"r1":8,"c0":3,"c1":4,"t":"0,01178","num":true},
{"r0":8,"r1":9,"c0":0,"c1":1,"t":"ratio B3Si 57%","num":false},{"r0":8,"r1":9,"c0":1,"c1":2,"t":"C","num":false},{"r0":8,"r1":9,"c0":2,"c1":3,"t":"0,00637","num":true},{"r0":8,"r1":9,"c0":3,"c1":4,"t":"0,00103","num":true}
]
},
"layer": [
  {
    "layer": [
      {
        "data": {"name": "pts"},
        "mark": {"type": "errorbar", "color": "#000080", "ticks": {"size": 9, "thickness": 1.2, "color": "#000080"}, "rule": {"strokeWidth": 1.3, "color": "#000080"}, "clip": true},
        "encoding": {
          "x": {"field": "x", "type": "quantitative", "scale": {"type": "log", "domain": [0.0915, 2000], "nice": false}, "axis": null},
          "y": {"field": "y", "type": "quantitative", "scale": {"domain": [0, 1.65], "nice": false, "zero": false}, "axis": null},
          "yError": {"field": "e"}
        }
      },
      {
        "data": {"name": "pts"},
        "mark": {"type": "point", "shape": "circle", "filled": false, "size": 46, "strokeWidth": 1.3, "opacity": 1, "clip": true},
        "encoding": {
          "x": {"field": "x", "type": "quantitative", "scale": {"type": "log", "domain": [0.0915, 2000], "nice": false},
            "axis": {"orient": "bottom", "title": "Energy (eV)", "titleFontSize": 18, "titlePadding": 9, "labelFontSize": 14, "labelPadding": 4, "labelFlush": false, "labelOverlap": false, "domainWidth": 1.6, "tickWidth": 1.2,
              "values": [0.1,0.2,0.3,0.4,0.5,0.6,0.7,0.8,0.9,1,2,3,4,5,6,7,8,9,10,20,30,40,50,60,70,80,90,100,200,300,400,500,600,700,800,900,1000],
              "labelExpr": "abs(log(datum.value)/LN10 - round(log(datum.value)/LN10)) < 0.001 ? replace(format(datum.value, ''), '.', ',') : ''",
              "tickSize": {"condition": {"test": "abs(log(datum.value)/LN10 - round(log(datum.value)/LN10)) < 0.001", "value": 6}, "value": 3.5}}},
          "y": {"field": "y", "type": "quantitative", "scale": {"domain": [0, 1.65], "nice": false, "zero": false},
            "axis": {"orient": "left", "title": "ratio B3Si 57%", "titleFontSize": 18, "titlePadding": 9, "labelFontSize": 14, "labelPadding": 7, "labelFlush": false, "labelOverlap": false, "domainWidth": 1.6, "tickWidth": 1.2,
              "values": [0, 0.5, 1, 1.5],
              "labelExpr": "datum.value % 1 == 0 ? format(datum.value, '') : ''",
              "tickSize": {"condition": {"test": "datum.value % 1 == 0", "value": 6}, "value": 4}}},
          "color": {"datum": "ratio B3Si 57%",
            "scale": {"domain": ["ratio B3Si 57%", "transfit2 (User)Fit of ratio B3Si 57%"], "range": ["#000080", "#8000FF"]},
            "legend": {"orient": "none", "legendX": 180, "legendY": -26.5, "title": null, "strokeColor": "#000", "fillColor": "#fff", "padding": 4, "symbolOffset": 34, "labelOffset": 14, "labelFont": "DejaVu Sans", "labelFontSize": 16, "labelColor": "#000", "rowPadding": 3, "symbolSize": 40, "labelLimit": 600, "zindex": 1,
              "encoding": {"symbols": {
                "shape": {"value": {"expr": "datum.value === 'ratio B3Si 57%' ? 'circle' : 'M-6.4,0H6.4'"}},
                "strokeWidth": {"value": {"expr": "datum.value === 'ratio B3Si 57%' ? 1.2 : 4"}}}}}}
        }
      },
      {
        "data": {"name": "fit"},
        "mark": {"type": "line", "strokeWidth": 4, "clip": true},
        "encoding": {
          "x": {"field": "x", "type": "quantitative", "scale": {"type": "log", "domain": [0.0915, 2000], "nice": false}, "axis": null},
          "y": {"field": "f", "type": "quantitative", "scale": {"domain": [0, 1.65], "nice": false, "zero": false},
            "axis": {"orient": "right", "title": null, "labels": false, "domainWidth": 1.6, "tickWidth": 1.2, "values": [0, 0.5, 1, 1.5],
              "tickSize": {"condition": {"test": "datum.value % 1 == 0", "value": -7}, "value": -4}}},
          "color": {"datum": "transfit2 (User)Fit of ratio B3Si 57%"}
        }
      }
    ],
    "resolve": {"axis": {"x": "independent", "y": "independent"}}
  },
  {
    "data": {"name": "table"},
    "layer": [
      {
        "mark": {"type": "rect", "fill": "white", "stroke": "#c8c8c8", "strokeWidth": 1},
        "encoding": {
          "x": {"field": "c0", "type": "quantitative", "scale": {"domain": [0, 1, 2, 3, 4], "range": [-62, 65, 177, 241, 353], "nice": false, "zero": false}, "axis": null},
          "x2": {"field": "c1"},
          "y": {"field": "r0", "type": "quantitative", "scale": {"domain": [0, 9], "range": [-35.7, 125], "nice": false, "zero": false}, "axis": null},
          "y2": {"field": "r1"}
        }
      },
      {
        "data": {"values": [{"c0": 0, "c1": 4, "r0": 0, "r1": 9}]},
        "mark": {"type": "rect", "fill": null, "fillOpacity": 0, "stroke": "#404040", "strokeWidth": 1.2},
        "encoding": {
          "x": {"field": "c0", "type": "quantitative", "axis": null},
          "x2": {"field": "c1"},
          "y": {"field": "r0", "type": "quantitative", "axis": null},
          "y2": {"field": "r1"}
        }
      },
      {
        "data": {"values": [{"c0": 0, "c1": 4, "r1": 9}]},
        "mark": {"type": "rule", "stroke": "#000", "strokeWidth": 2},
        "encoding": {
          "x": {"field": "c0", "type": "quantitative", "axis": null},
          "x2": {"field": "c1"},
          "y": {"field": "r1", "type": "quantitative", "axis": null}
        }
      },
      {
        "transform": [{"filter": "datum.r1 - datum.r0 == 1 && !datum.num"}],
        "mark": {"type": "text", "align": "left", "baseline": "middle", "dx": 3, "dy": 9, "fontSize": 15, "font": "Liberation Sans", "color": "#000"},
        "encoding": {
          "x": {"field": "c0", "type": "quantitative", "axis": null},
          "y": {"field": "r0", "type": "quantitative", "axis": null},
          "text": {"field": "t"}
        }
      },
      {
        "transform": [{"filter": "datum.r1 - datum.r0 == 1 && datum.num"}],
        "mark": {"type": "text", "align": "right", "baseline": "middle", "dx": -4, "dy": 9, "fontSize": 15, "font": "Liberation Sans", "color": "#000"},
        "encoding": {
          "x": {"field": "c1", "type": "quantitative", "axis": null},
          "y": {"field": "r0", "type": "quantitative", "axis": null},
          "text": {"field": "t"}
        }
      },
      {
        "transform": [{"filter": "datum.r1 - datum.r0 == 2 && datum.c0 == 0"}],
        "mark": {"type": "text", "align": "left", "baseline": "middle", "dx": 3, "dy": 17.9, "fontSize": 15, "font": "Liberation Sans", "color": "#000"},
        "encoding": {
          "x": {"field": "c0", "type": "quantitative", "axis": null},
          "y": {"field": "r0", "type": "quantitative", "axis": null},
          "text": {"field": "t"}
        }
      },
      {
        "transform": [{"filter": "datum.r1 - datum.r0 == 2 && datum.c0 > 0"}],
        "mark": {"type": "text", "align": "left", "baseline": "middle", "dx": 3, "dy": 10.5, "fontSize": 15, "lineHeight": 15, "lineBreak": "\n", "font": "Liberation Sans", "color": "#000"},
        "encoding": {
          "x": {"field": "c0", "type": "quantitative", "axis": null},
          "y": {"field": "r0", "type": "quantitative", "axis": null},
          "text": {"field": "t"}
        }
      }
    ]
  }
],
"resolve": {"scale": {"x": "independent", "y": "independent", "color": "independent"}}
}
